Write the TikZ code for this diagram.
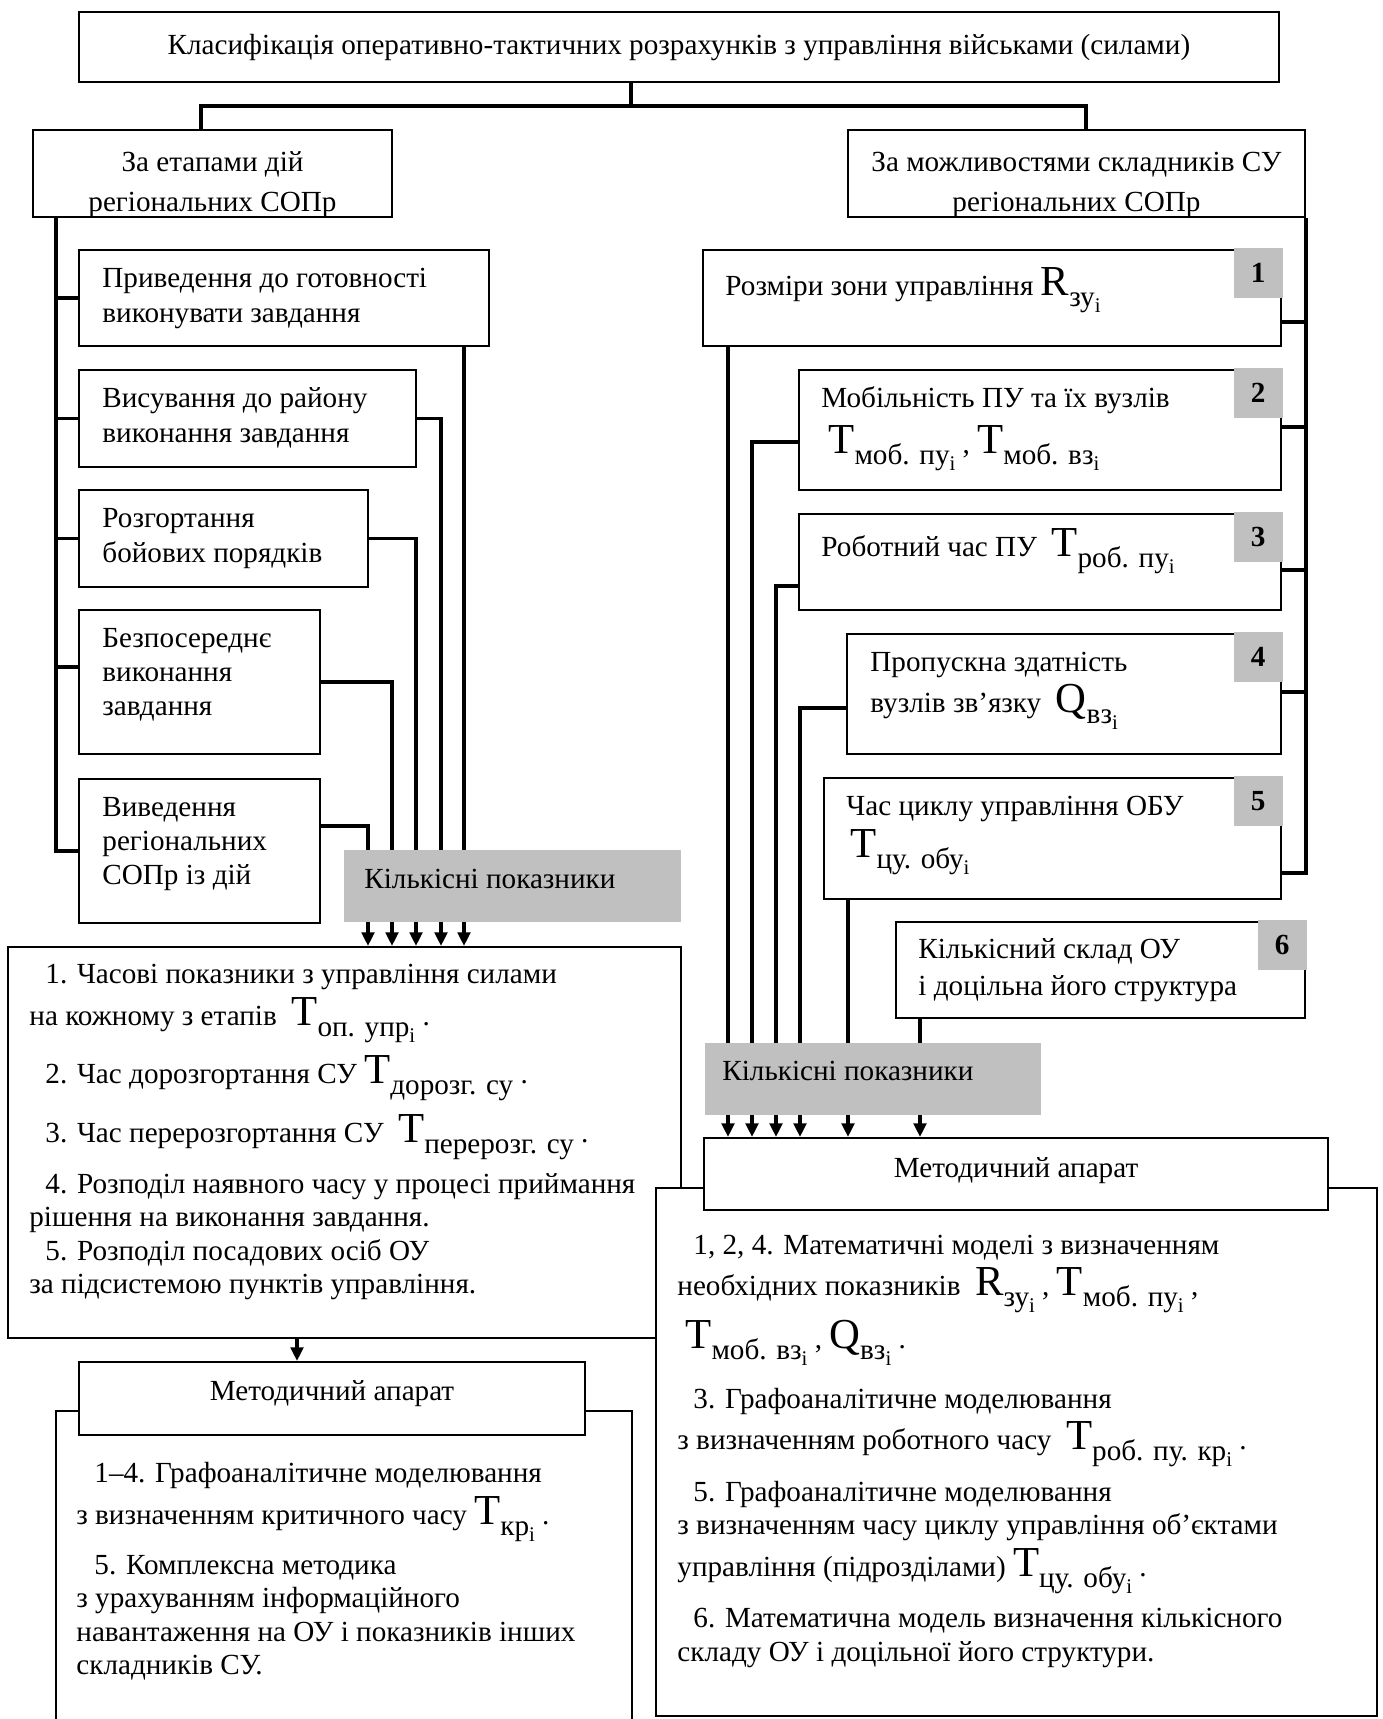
\documentclass[tikz,border=0pt]{standalone}
\usepackage{fontspec}
\setmainfont{Liberation Serif}
\usetikzlibrary{positioning,fit,arrows.meta}
\definecolor{grayfill}{HTML}{C0C0C0}
% big letter with subscript and index
\newcommand{\pk}[3]{{\fontsize{20.5}{20.5}\selectfont #1}\raisebox{-5.5pt}{\fontsize{14}{14}\selectfont #2\raisebox{-3pt}{\fontsize{10}{10}\selectfont #3}}}

\begin{document}
\begin{tikzpicture}[x=0.48pt, y=-0.48pt, font=\fontsize{14}{16.3}\selectfont]

	\tikzstyle{box} = [draw, line width=1pt, fill=white, inner sep=0pt]
	\tikzstyle{grayblock} = [fill=grayfill, inner sep=0pt]
	\tikzstyle{badge} = [fill=grayfill, anchor=north east, xshift=0.5pt, yshift=0.5pt, minimum width=23.5pt, minimum height=24pt, inner sep=0pt, font=\fontsize{14}{16}\selectfont\bfseries]
	\tikzstyle{txt} = [anchor=base west, inner sep=0pt]
	\tikzstyle{ctxt} = [anchor=base, inner sep=0pt]
	\tikzstyle{link} = [line width=1.6pt]
	\tikzstyle{arr} = [line width=1.6pt, -{Triangle[length=6.5pt, width=6pt]}]

	% Page
	\fill[white] (0,0) rectangle (1383,1719);
	\useasboundingbox (0,0) rectangle (1383,1719);

	% Title and groups
	\node[box, fit={(79,12) (1279,82)}] (title) {};
	\node[box, fit={(33,130) (392,217)}] (catL) {};
	\node[box, fit={(848,130) (1305,217)}] (catR) {};

	% Stages
	\node[box, fit={(79,250) (489,346)}] (l1) {};
	\node[box, fit={(79,370) (416,467)}] (l2) {};
	\node[box, fit={(79,490) (368,587)}] (l3) {};
	\node[box, fit={(79,610) (320,754)}] (l4) {};
	\node[box, fit={(79,779) (320,923)}] (l5) {};

	% Components
	\node[box, fit={(703,250) (1281,346)}] (r1) {};
	\node[box, fit={(799,370) (1281,490)}] (r2) {};
	\node[box, fit={(799,514) (1281,610)}] (r3) {};
	\node[box, fit={(847,634) (1281,754)}] (r4) {};
	\node[box, fit={(824,778) (1281,899)}] (r5) {};
	\node[box, fit={(896,922) (1305,1018)}] (r6) {};

	% Results and methods
	\node[box, fit={(8,947) (681,1338)}] (res) {};
	\node[box, fit={(656,1188) (1377,1716)}] (mrb) {};
	\node[box, fit={(704,1138) (1328,1210)}] (mr) {};
	\node[box, fit={(56,1411) (632,1745)}] (mlb) {};
	\node[box, fit={(79,1362) (585,1435)}] (ml) {};

	% Tree
	\coordinate (stem) at (631,106);
	\coordinate (barL) at (201,106);
	\coordinate (barR) at (1086,106);
	\coordinate (spL) at (56,0);
	\draw[link] (title.south -| stem) -- (stem);
	\draw[link] (catL.north -| barL) -- (barL) -- (barR) -- (catR.north -| barR);

	% Left spine
	\draw[link] (catL.south -| spL) |- (l5.west);
	\draw[link] (l1.west) -- (l1.west -| spL);
	\draw[link] (l2.west) -- (l2.west -| spL);
	\draw[link] (l3.west) -- (l3.west -| spL);
	\draw[link] (l4.west |- 0,667) -- (spL |- 0,667);

	% Left outputs
	\draw[arr] (l1.south -| 464,0) -- (res.north -| 464,0);
	\draw[arr] (l2.east) -| (res.north -| 441,0);
	\draw[arr] (l3.east) -| (res.north -| 416,0);
	\draw[arr] (l4.east) -| (res.north -| 392,0);
	\draw[arr] (l5.east |- 0,826) -| (res.north -| 368,0);
	\draw[arr] (res.south -| 297,0) -- (ml.north -| 297,0);

	% Right spine
	\draw[link] (catR.south east) |- (r5.east |- 0,873);
	\draw[link] (r1.east |- 0,322) -- (catR.east |- 0,322);
	\draw[link] (r2.east |- 0,427) -- (catR.east |- 0,427);
	\draw[link] (r3.east |- 0,570) -- (catR.east |- 0,570);
	\draw[link] (r4.east |- 0,692) -- (catR.east |- 0,692);

	% Right outputs
	\draw[arr] (r1.south -| 728,0) -- (mr.north -| 728,0);
	\draw[arr] (r2.west |- 0,442) -| (mr.north -| 752,0);
	\draw[arr] (r3.west |- 0,586) -| (mr.north -| 776,0);
	\draw[arr] (r4.west |- 0,708) -| (mr.north -| 800,0);
	\draw[arr] (r5.south -| 848,0) -- (mr.north -| 848,0);
	\draw[arr] (r6.south -| 920,0) -- (mr.north -| 920,0);

	% Gray labels
	\node[grayblock, fit={(344,850) (681,922)}] (qL) {};
	\node[grayblock, fit={(705,1043) (1041,1115)}] (qR) {};
	\node[txt] (qLt) at (364,888) {Кількісні показники};
	\node[txt] (qRt) at (722,1080) {Кількісні показники};

	% Badges
	\node[badge] (b1) at (r1.north east) {1};
	\node[badge] (b2) at (r2.north east) {2};
	\node[badge] (b3) at (r3.north east) {3};
	\node[badge] (b4) at (r4.north east) {4};
	\node[badge] (b5) at (r5.north east) {5};
	\node[badge] (b6) at (r6.north east) {6};

	% Headings
	\node[ctxt] (titleT) at (title.center |- 0,55) {Класифікація оперативно-тактичних розрахунків з управління військами (силами)};
	\node[ctxt] (catLa) at (catL.center |- 0,171) {За етапами дій};
	\node[ctxt] (catLb) at (catL.center |- 0,211) {регіональних СОПр};
	\node[ctxt] (catRa) at (catR.center |- 0,171) {За можливостями складників СУ};
	\node[ctxt] (catRb) at (catR.center |- 0,211) {регіональних СОПр};
	\node[ctxt] (mrT) at (mr.center |- 0,1177) {Методичний апарат};
	\node[ctxt] (mlT) at (ml.center |- 0,1400) {Методичний апарат};

	% Stage texts
	\node[txt] (l1a) at (102,287) {Приведення до готовності};
	\node[txt] (l1b) at (102,322) {виконувати завдання};
	\node[txt] (l2a) at (102,407) {Висування до району};
	\node[txt] (l2b) at (102,442) {виконання завдання};
	\node[txt] (l3a) at (102,527) {Розгортання};
	\node[txt] (l3b) at (102,562) {бойових порядків};
	\node[txt] (l4a) at (102,647) {Безпосереднє};
	\node[txt] (l4b) at (102,681) {виконання};
	\node[txt] (l4c) at (102,715) {завдання};
	\node[txt] (l5a) at (102,816) {Виведення};
	\node[txt] (l5b) at (102,850) {регіональних};
	\node[txt] (l5c) at (102,884) {СОПр із дій};

	% Component texts
	\node[txt] (r1a) at (725,295) {Розміри зони управління \pk{R}{зу}{i}};
	\node[txt] (r2a) at (821,407) {Мобільність ПУ та їх вузлів};
	\node[txt] (r2b) at (828,453) {\pk{T}{моб. пу}{i} , \pk{T}{моб. вз}{i}};
	\node[txt] (r3a) at (821,556) {Роботний час ПУ~ \pk{T}{роб. пу}{i}};
	\node[txt] (r4a) at (870,671) {Пропускна здатність};
	\node[txt] (r4b) at (870,712) {вузлів зв’язку~ \pk{Q}{вз}{i}};
	\node[txt] (r5a) at (846,815) {Час циклу управління ОБУ};
	\node[txt] (r5b) at (850,857) {\pk{T}{цу. обу}{i}};
	\node[txt] (r6a) at (918,958) {Кількісний склад ОУ};
	\node[txt] (r6b) at (918,995) {і доцільна його структура};

	% Result texts
	\node[txt] (res1) at (45,983) {1. Часові показники з управління силами};
	\node[txt] (res2) at (29,1025) {на кожному з етапів~ \pk{T}{оп. упр}{i} .};
	\node[txt] (res3) at (45,1083) {2. Час дорозгортання СУ \pk{T}{дорозг. су}{} .};
	\node[txt] (res4) at (45,1142) {3. Час перерозгортання СУ~ \pk{T}{перерозг. су}{} .};
	\node[txt] (res5) at (45,1193) {4. Розподіл наявного часу у процесі приймання};
	\node[txt] (res6) at (29,1226) {рішення на виконання завдання.};
	\node[txt] (res7) at (45,1260) {5. Розподіл посадових осіб ОУ};
	\node[txt] (res8) at (29,1293) {за підсистемою пунктів управління.};

	% Left method texts
	\node[txt] (ml1) at (94,1482) {1–4. Графоаналітичне моделювання};
	\node[txt] (ml2) at (76,1524) {з визначенням критичного часу \pk{T}{кр}{i} .};
	\node[txt] (ml3) at (94,1574) {5. Комплексна методика};
	\node[txt] (ml4) at (76,1607) {з урахуванням інформаційного};
	\node[txt] (ml5) at (76,1641) {навантаження на ОУ і показників інших};
	\node[txt] (ml6) at (76,1674) {складників СУ.};

	% Right method texts
	\node[txt] (mr1) at (693,1254) {1, 2, 4. Математичні моделі з визначенням};
	\node[txt] (mr2) at (677,1295) {необхідних показників~ \pk{R}{зу}{i} , \pk{T}{моб. пу}{i} ,};
	\node[txt] (mr3) at (685,1348) {\pk{T}{моб. вз}{i} , \pk{Q}{вз}{i} .};
	\node[txt] (mr4) at (693,1408) {3. Графоаналітичне моделювання};
	\node[txt] (mr5) at (677,1449) {з визначенням роботного часу~ \pk{T}{роб. пу. кр}{i} .};
	\node[txt] (mr6) at (693,1501) {5. Графоаналітичне моделювання};
	\node[txt] (mr7) at (677,1534) {з визначенням часу циклу управління об’єктами};
	\node[txt] (mr8) at (677,1576) {управління (підрозділами) \pk{T}{цу. обу}{i} .};
	\node[txt] (mr9) at (693,1627) {6. Математична модель визначення кількісного};
	\node[txt] (mr10) at (677,1661) {складу ОУ і доцільної його структури.};

\end{tikzpicture}
\end{document}
